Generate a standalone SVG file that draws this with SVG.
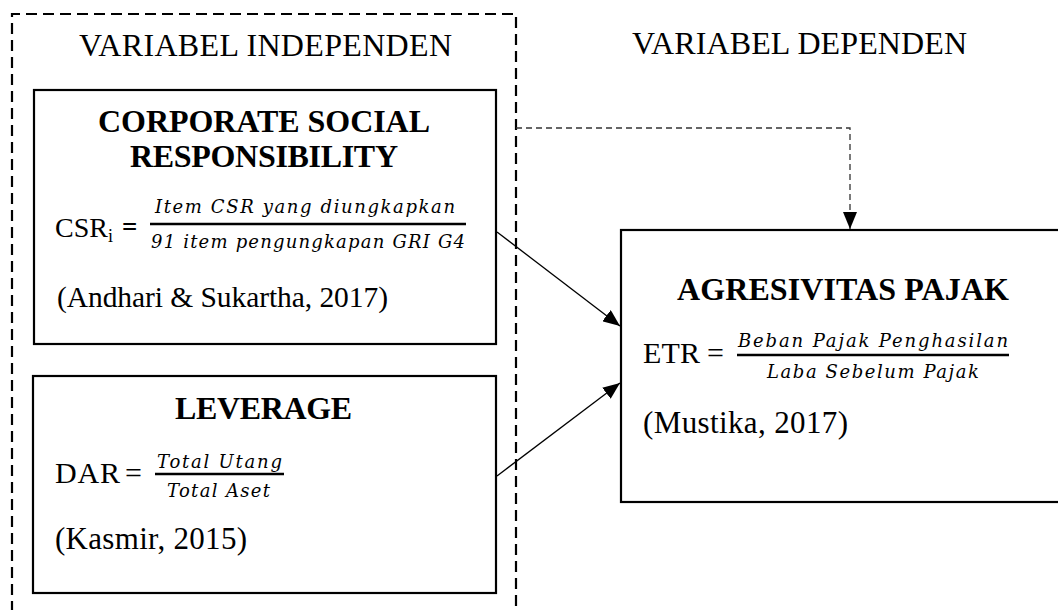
<svg xmlns="http://www.w3.org/2000/svg" width="1058" height="610" viewBox="0 0 1058 610">
<defs>
<style>
.box{fill:#fff;stroke:#000;stroke-width:2.2}
.t{font-family:"Liberation Serif","Times New Roman",serif;fill:#000}
.b{font-weight:bold;font-size:32px}
.h{font-size:32px}
.m{font-size:30px}
.f{font-family:"DejaVu Serif",serif;font-style:italic;font-size:18px;fill:#000}
.bar{stroke:#000;stroke-width:2.6}
.conn{fill:none;stroke:#000;stroke-width:1.3}
.dot{fill:none;stroke:#333;stroke-width:1.3;stroke-dasharray:6 4}
.outer{fill:none;stroke:#000;stroke-width:2.2;stroke-dasharray:11 6}
</style>
<marker id="ah" markerUnits="userSpaceOnUse" markerWidth="17" markerHeight="14" refX="17" refY="7" orient="auto">
<path d="M0,0 L17,7 L0,14 z" fill="#000"/>
</marker>
</defs>
<rect width="1058" height="610" fill="#fff"/>
<g id="outer-frame">
<path class="outer" d="M12,612 V14 H516 V612"/>
<text class="t h" x="79" y="56" textLength="373" lengthAdjust="spacing">VARIABEL INDEPENDEN</text>
</g>
<g id="dependent-label">
<text class="t h" x="632" y="54" textLength="335" lengthAdjust="spacing">VARIABEL DEPENDEN</text>
</g>
<g id="connectors">
<path class="dot" d="M516,128 H850 V229" marker-end="url(#ah)"/>
<line class="conn" x1="497" y1="232" x2="620" y2="326" marker-end="url(#ah)"/>
<line class="conn" x1="497" y1="476" x2="620" y2="383" marker-end="url(#ah)"/>
</g>
<g id="csr">
<rect class="box" x="34" y="90" width="462" height="254"/>
<text class="t b" x="98" y="132" textLength="332" lengthAdjust="spacing">CORPORATE SOCIAL</text>
<text class="t b" x="130" y="167" textLength="268" lengthAdjust="spacing">RESPONSIBILITY</text>
<text class="t" x="55" y="237" font-size="28">CSR<tspan font-size="18" dy="5">i</tspan></text>
<text class="t" x="122" y="236" font-size="27" font-weight="bold">=</text>
<text class="f" x="155" y="213" textLength="300" lengthAdjust="spacing">Item CSR yang diungkapkan</text>
<line class="bar" x1="150" y1="224" x2="466" y2="224"/>
<text class="f" x="151" y="248" textLength="314" lengthAdjust="spacing">91 item pengungkapan GRI G4</text>
<text class="t" x="57" y="307" font-size="29.5" textLength="331" lengthAdjust="spacing">(Andhari &amp; Sukartha, 2017)</text>
</g>
<g id="leverage">
<rect class="box" x="33" y="376" width="463" height="217"/>
<text class="t b" x="175" y="419" textLength="177" lengthAdjust="spacing">LEVERAGE</text>
<text class="t m" x="55" y="483" textLength="65" lengthAdjust="spacing">DAR</text>
<text class="t m" x="125" y="483">=</text>
<text class="f" x="157" y="468" textLength="125" lengthAdjust="spacing">Total Utang</text>
<line class="bar" x1="155" y1="474" x2="284" y2="474"/>
<text class="f" x="167" y="497" textLength="103" lengthAdjust="spacing">Total Aset</text>
<text class="t" x="55" y="549" font-size="31" textLength="192" lengthAdjust="spacing">(Kasmir, 2015)</text>
</g>
<g id="agresivitas">
<rect class="box" x="621" y="230" width="460" height="272"/>
<text class="t b" x="677" y="300" textLength="332" lengthAdjust="spacing">AGRESIVITAS PAJAK</text>
<text class="t m" x="643" y="363" textLength="57" lengthAdjust="spacing">ETR</text>
<text class="t m" x="707" y="363">=</text>
<text class="f" x="738" y="347" textLength="270" lengthAdjust="spacing">Beban Pajak Penghasilan</text>
<line class="bar" x1="737" y1="355" x2="1009" y2="355"/>
<text class="f" x="767" y="378" textLength="212" lengthAdjust="spacing">Laba Sebelum Pajak</text>
<text class="t" x="643" y="433" font-size="31" textLength="205" lengthAdjust="spacing">(Mustika, 2017)</text>
</g>
</svg>
